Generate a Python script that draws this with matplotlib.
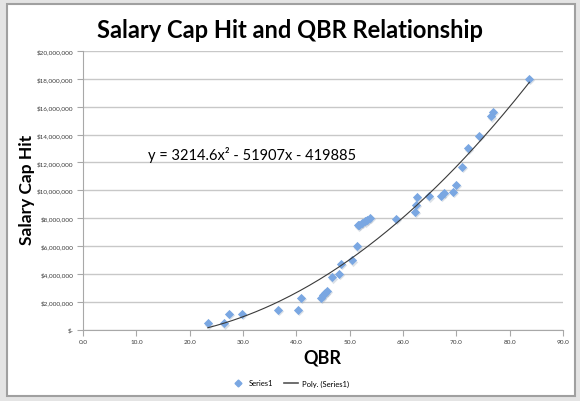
import numpy as np
import matplotlib
matplotlib.use("Agg")
import matplotlib.pyplot as plt
from matplotlib.patches import Rectangle
from matplotlib.ticker import FuncFormatter, MultipleLocator
from matplotlib.lines import Line2D
import matplotlib.transforms as mtransforms

qbr = [23.4, 26.5, 27.3, 29.8, 36.5, 40.4, 40.8, 44.6, 45.0, 45.4, 45.8,
       46.7, 48.0, 48.3, 50.5, 51.4, 51.5, 51.8, 52.4, 52.9, 53.3, 53.8,
       58.7, 62.3, 62.4, 62.6, 64.8, 67.1, 67.6, 69.4, 69.9, 71.1, 72.2,
       74.2, 76.5, 76.9, 83.7]
cap_hit = [0.45, 0.45, 1.12, 1.12, 1.43, 1.43, 2.28, 2.28, 2.49, 2.65, 2.8,
           3.76, 3.99, 4.71, 4.96, 5.97, 7.48, 7.53, 7.67, 7.79, 7.89, 8.01,
           7.96, 8.44, 8.97, 9.48, 9.58, 9.6, 9.82, 9.9, 10.4, 11.7, 13.0,
           13.9, 15.3, 15.65, 18.0]
cap_hit = [v * 1e6 for v in cap_hit]
poly_coef = [3214.6, -51907, -419885]
x_ticks = [0, 10, 20, 30, 40, 50, 60, 70, 80, 90]

W, H = 580, 402
fig = plt.figure(figsize=(W / 100, H / 100), dpi=100)
fig.patch.set_facecolor("#e4e4e4")
frame = Rectangle((7 / W, 5 / H), 568 / W, 392 / H, transform=fig.transFigure,
                  facecolor="white", edgecolor="#a0a0a0", linewidth=1.5, zorder=-5)
fig.patches.append(frame)

ax = fig.add_axes([83 / W, 1 - 330.5 / H, 480 / W, (330.5 - 52) / H])
ax.patch.set_alpha(0)
ax.set_xlim(0, 90)
ax.set_ylim(0, 20e6)
ax.yaxis.set_major_locator(MultipleLocator(2e6))
ax.set_xticks(x_ticks)
ax.xaxis.set_major_formatter(FuncFormatter(lambda v, p: f"{v:.1f}"))
ax.yaxis.set_major_formatter(FuncFormatter(lambda v, p: "$-" if v == 0 else f"${v:,.0f}"))
ax.grid(axis="y", color="#c8c8c8", linewidth=1.0)
ax.set_axisbelow(True)
for s in ["top", "right"]:
    ax.spines[s].set_visible(False)
for s in ["left", "bottom"]:
    ax.spines[s].set_color("#a8a8a8")
ax.tick_params(axis="both", colors="#a8a8a8", labelcolor="#3a3a3a", labelsize=4.6, length=4)
ax.tick_params(axis="x", pad=3)
ax.tick_params(axis="y", pad=3)
for lab in ax.get_xticklabels() + ax.get_yticklabels():
    lab.set_family("Lato")

shadow = ax.transData + mtransforms.ScaledTranslation(1 / 100, -1.5 / 100, fig.dpi_scale_trans)
ax.scatter(qbr, cap_hit, marker="D", s=22, color="#9aa9bb", alpha=0.35, linewidths=0,
           zorder=2, transform=shadow)
ax.scatter(qbr, cap_hit, marker="D", s=22, color="#7aa7e2", linewidths=0, zorder=3)

xs = np.linspace(min(qbr), max(qbr), 200)
ax.plot(xs, np.polyval(poly_coef, xs), color="#3a3a3a", linewidth=0.8, zorder=4)

ax.text(12.2, 12.6e6, "y = 3214.6x\u00b2 - 51907x - 419885", fontsize=10.5,
        family=["Lato", "DejaVu Sans"], va="center", ha="left", color="black")

fig.text(290 / W, 1 - 30 / H, "Salary Cap Hit and QBR Relationship", ha="center", va="center",
         fontsize=17, fontweight="bold", family="Lato")
fig.text(27 / W, 1 - 190 / H, "Salary Cap Hit", rotation=90, ha="center", va="center",
         fontsize=12.5, fontweight="bold", family="Lato")
fig.text(322 / W, 1 - 358 / H, "QBR", ha="center", va="center",
         fontsize=13, fontweight="bold", family="Lato")

handles = [Line2D([], [], marker="D", color="#7aa7e2", linestyle="none", markersize=3.5),
           Line2D([], [], color="#555555", linewidth=1.2)]
fig.legend(handles, ["Series1", "Poly. (Series1)"], loc="center", bbox_to_anchor=(290 / W, 1 - 384 / H),
           ncol=2, frameon=False, handlelength=1.8, columnspacing=1.5, handletextpad=0.5,
           prop={"family": "Lato", "size": 5.5})

fig.savefig("out.png", dpi=100, facecolor=fig.get_facecolor())
